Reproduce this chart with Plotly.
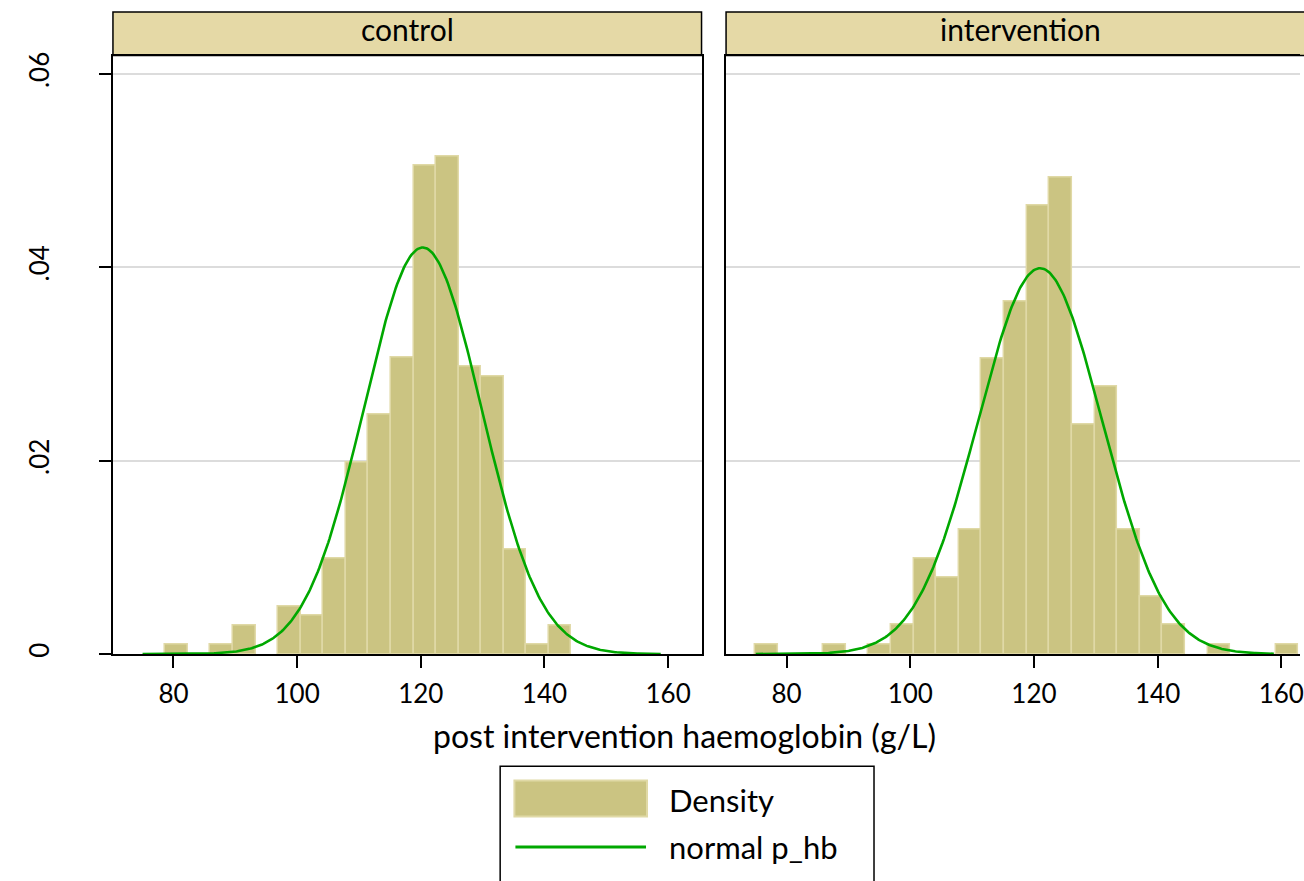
import numpy as np
import plotly.graph_objects as go

W, H = 1304, 881

# Histogram bins: lower edges and densities, one set per panel
control_bin_left = [78.66, 82.31, 85.96, 89.61, 93.26, 96.91, 100.56, 104.21, 107.86,
                    111.51, 115.16, 118.81, 122.46, 126.11, 129.76, 133.41, 137.06, 140.71]
control_bin_width = 3.65
control_density = [0.00100, 0.0, 0.00100, 0.00292, 0.0, 0.00490, 0.00398, 0.00991, 0.01976,
                   0.02473, 0.03071, 0.05048, 0.05143, 0.02977, 0.02873, 0.01085, 0.00100, 0.00292]

interv_bin_left = [74.92, 78.58, 82.24, 85.90, 89.56, 93.22, 96.88, 100.54, 104.20, 107.86,
                   111.52, 115.18, 118.84, 122.50, 126.16, 129.82, 133.48, 137.14, 140.80,
                   144.46, 148.12, 151.78, 155.44, 159.10]
interv_bin_width = 3.66
interv_density = [0.00096, 0.0, 0.0, 0.00096, 0.0, 0.00096, 0.00301, 0.00991, 0.00793, 0.01285,
                  0.03060, 0.03648, 0.04636, 0.04930, 0.02369, 0.02762, 0.01285, 0.00591, 0.00301,
                  0.0, 0.00096, 0.0, 0.0, 0.00096]

# Normal overlay parameters (mean, sd) per group and the span it is drawn over
control_mean, control_sd = 120.3, 9.49
interv_mean, interv_sd = 121.0, 10.0
curve_span = (75.0, 158.8)

panel_titles = ["control", "intervention"]
x_ticks = [80, 100, 120, 140, 160]
y_ticks = [0, 0.02, 0.04, 0.06]
y_tick_text = ["0", ".02", ".04", ".06"]
x_title = "post intervention haemoglobin (g/L)"
legend_labels = ["Density", "normal p_hb"]

BAR_FILL = "#CBC482"
BAR_EDGE = "#E0D9A6"
STRIP_FILL = "#E5D9A6"
CURVE = "#00A800"
GRID = "#DCDCDC"
FONT = "Lato"


def px(x):
    return x / W


def py(y):
    return 1 - y / H


def normal_pdf(x, mu, sd):
    return np.exp(-0.5 * ((x - mu) / sd) ** 2) / (sd * np.sqrt(2 * np.pi))


fig = go.Figure()

panels = [
    (control_bin_left, control_bin_width, control_density, control_mean, control_sd, "x", "y"),
    (interv_bin_left, interv_bin_width, interv_density, interv_mean, interv_sd, "x2", "y2"),
]
for left, width, dens, mu, sd, xa, ya in panels:
    left = np.array(left)
    dens = np.array(dens)
    keep = dens > 0
    fig.add_trace(go.Bar(
        x=left[keep] + width / 2, y=dens[keep], width=width,
        marker=dict(color=BAR_FILL, line=dict(color=BAR_EDGE, width=1.5)),
        xaxis=xa, yaxis=ya, showlegend=False, name=legend_labels[0],
    ))
    xs = np.linspace(curve_span[0], curve_span[1], 400)
    fig.add_trace(go.Scatter(
        x=xs, y=normal_pdf(xs, mu, sd), mode="lines",
        line=dict(color=CURVE, width=2.6),
        xaxis=xa, yaxis=ya, showlegend=False, name=legend_labels[1],
    ))

tickfont = dict(family=FONT, size=26, color="black")
x_common = dict(
    tickvals=x_ticks, ticks="outside", ticklen=12, tickwidth=1.5, tickcolor="black",
    showline=True, linecolor="black", linewidth=1.5, mirror=True,
    showgrid=False, zeroline=False, tickfont=tickfont, layer="below traces",
    ticklabeloverflow="allow", ticklabelstandoff=4,
)
y_range = [0, 0.061885]

fig.update_layout(
    width=W, height=H,
    margin=dict(l=0, r=0, t=0, b=0),
    paper_bgcolor="white", plot_bgcolor="white",
    bargap=0,
    xaxis=dict(domain=[px(113.3), px(703.7)], range=[70.21, 165.40], anchor="y", **x_common),
    xaxis2=dict(domain=[px(728.3), 1.0], range=[70.21, 163.03], anchor="y2", **x_common),
    yaxis=dict(
        domain=[py(656), py(52)], range=y_range, anchor="x",
        tickvals=y_ticks, ticktext=y_tick_text, tickangle=-90,
        ticks="outside", ticklen=12, tickwidth=1.5, tickcolor="black",
        ticklabelstandoff=40,
        showline=True, linecolor="black", linewidth=1.5, mirror=True,
        showgrid=True, gridcolor=GRID, gridwidth=2, zeroline=False,
        tickfont=tickfont, layer="below traces",
    ),
    yaxis2=dict(
        domain=[py(656), py(52)], range=y_range, anchor="x2",
        tickvals=y_ticks, showticklabels=False, ticks="",
        showline=True, linecolor="black", linewidth=1.5, mirror=False,
        showgrid=True, gridcolor=GRID, gridwidth=2, zeroline=False,
        layer="below traces",
    ),
)

# Panel strips with their titles
strips = [(113.3, 703.7), (728.3, 1318.7)]
shapes = []
annotations = []
for (x0, x1), title in zip(strips, panel_titles):
    shapes.append(dict(
        type="rect", xref="paper", yref="paper",
        x0=px(x0), x1=px(x1), y0=py(52), y1=py(8),
        fillcolor=STRIP_FILL, line=dict(color="black", width=1.5), layer="below",
    ))
    annotations.append(dict(
        text=title, xref="paper", yref="paper", x=px((x0 + x1) / 2), y=py(25),
        xanchor="center", yanchor="middle", showarrow=False,
        font=dict(family=FONT, size=30, color="black"),
    ))

# Shared x-axis title
annotations.append(dict(
    text=x_title, xref="paper", yref="paper", x=px(686.5), y=py(738),
    xanchor="center", yanchor="middle", showarrow=False,
    font=dict(family=FONT, size=32, color="black"),
))

# Legend box with its two keys
shapes.append(dict(
    type="rect", xref="paper", yref="paper",
    x0=px(501.7), x1=px(876.7), y0=py(900), y1=py(769.3),
    fillcolor="rgba(0,0,0,0)", line=dict(color="black", width=1.5),
))
shapes.append(dict(
    type="rect", xref="paper", yref="paper",
    x0=px(516), x1=px(649), y0=py(820), y1=py(783.5),
    fillcolor=BAR_FILL, line=dict(color=BAR_EDGE, width=2),
))
shapes.append(dict(
    type="line", xref="paper", yref="paper",
    x0=px(517), x1=px(648), y0=py(850.7), y1=py(850.7),
    line=dict(color=CURVE, width=3),
))
for label, yc in zip(legend_labels, [803, 851]):
    annotations.append(dict(
        text=label, xref="paper", yref="paper", x=px(669), y=py(yc),
        xanchor="left", yanchor="middle", showarrow=False,
        font=dict(family=FONT, size=31, color="black"),
    ))

fig.update_layout(shapes=shapes, annotations=annotations)

fig.write_html("out.html")
